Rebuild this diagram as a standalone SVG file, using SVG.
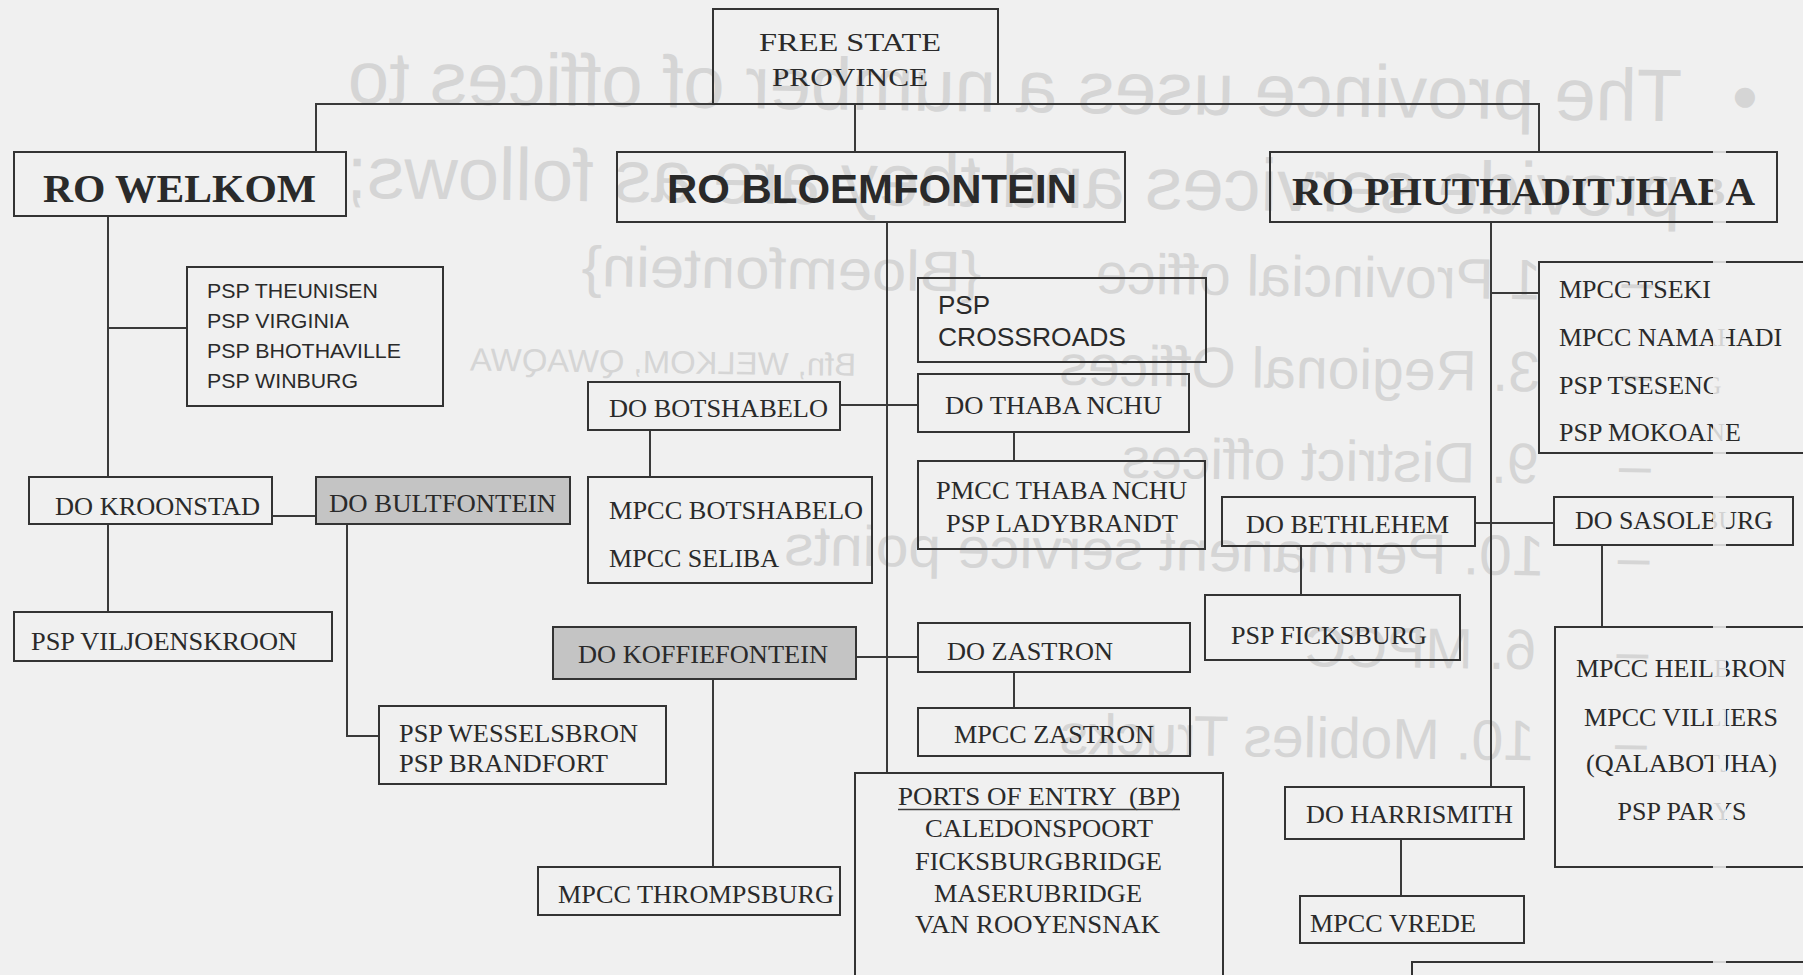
<svg xmlns="http://www.w3.org/2000/svg" width="1803" height="975" viewBox="0 0 1803 975">
<style>
.bg{fill:#f0f0f0}
.ghost text{font-family:"Liberation Sans",Arial,sans-serif;fill:#d5d5d5}
.box{fill:none;stroke:#333;stroke-width:2}
.shade{fill:#c4c4c4;stroke:#333;stroke-width:2}
.serif{font-family:"Liberation Serif","Times New Roman",serif;font-size:26px;fill:#2a2a2a}
.sans{font-family:"Liberation Sans",Arial,sans-serif;fill:#2a2a2a}
.big{font-weight:bold;font-size:41px}
.conn path{stroke:#3a3a3a;stroke-width:2;fill:none}
.gap{fill:#f0f0f0;opacity:0.85}
</style>
<rect class="bg" x="0" y="0" width="1803" height="975"/>

<g id="ghost" class="ghost" transform="rotate(0.8 1012 300) matrix(-1 0 0 1 1803 0)">
  <text x="48" y="112" font-size="74">•</text>
  <text x="124" y="112" font-size="74" textLength="1334" lengthAdjust="spacingAndGlyphs">The province uses a number of offices to</text>
  <text x="124" y="207" font-size="74" textLength="1334" lengthAdjust="spacingAndGlyphs">provide services and they are as follows;</text>
  <text x="150" y="292" font-size="57">–</text>
  <text x="262" y="292" font-size="57">1 Provincial office</text>
  <text x="822" y="292" font-size="57" textLength="400" lengthAdjust="spacingAndGlyphs">{Bloemfontein}</text>
  <text x="150" y="384" font-size="57">–</text>
  <text x="262" y="384" font-size="57">3. Regional Offices</text>
  <text x="946" y="378" font-size="32" textLength="386" lengthAdjust="spacingAndGlyphs">Bfn, WELKOM, QWAQWA</text>
  <text x="150" y="476" font-size="57">–</text>
  <text x="262" y="476" font-size="57">9. District offices</text>
  <text x="150" y="568" font-size="57">–</text>
  <text x="255" y="568" font-size="57" textLength="760" lengthAdjust="spacingAndGlyphs">10. Permanent service points</text>
  <text x="150" y="662" font-size="57">–</text>
  <text x="262" y="662" font-size="57">6. MPCC</text>
  <text x="150" y="753" font-size="57">–</text>
  <text x="262" y="753" font-size="57">10. Mobiles Trucks</text>
</g>

<g id="connectors" class="conn">
  <path d="M316 152 V104 H1539 V152"/>
  <path d="M855 104 V152"/>
  <path d="M108 216 V477 M108 524 V612"/>
  <path d="M108 328 H187"/>
  <path d="M272 516 H315"/>
  <path d="M347 524 V736 H379"/>
  <path d="M887 222 V773"/>
  <path d="M840 405 H918"/>
  <path d="M650 430 V477"/>
  <path d="M1014 432 V461"/>
  <path d="M856 657 H918"/>
  <path d="M713 679 V867"/>
  <path d="M1014 672 V708"/>
  <path d="M1491 222 V788"/>
  <path d="M1491 293 H1539"/>
  <path d="M1475 523 H1554"/>
  <path d="M1301 546 V595"/>
  <path d="M1602 545 V627"/>
  <path d="M1401 839 V896"/>
</g>

<g id="free-state-province">
  <rect class="box" x="713" y="9" width="285" height="95"/>
  <text class="serif" font-size="34" x="759" y="51" textLength="182" lengthAdjust="spacingAndGlyphs">FREE STATE</text>
  <text class="serif" font-size="34" x="772" y="86" textLength="156" lengthAdjust="spacingAndGlyphs">PROVINCE</text>
</g>

<g id="ro-welkom">
  <rect class="box" x="14" y="152" width="332" height="64"/>
  <text class="serif big" x="43" y="202" textLength="273" lengthAdjust="spacingAndGlyphs">RO WELKOM</text>
</g>
<g id="ro-bloemfontein">
  <rect class="box" x="617" y="152" width="508" height="70"/>
  <text class="sans big" x="667" y="203" textLength="410" lengthAdjust="spacingAndGlyphs">RO BLOEMFONTEIN</text>
</g>
<g id="ro-phuthaditjhaba">
  <rect class="box" x="1270" y="152" width="507" height="70"/>
  <text class="serif big" x="1292" y="205" textLength="463" lengthAdjust="spacingAndGlyphs">RO PHUTHADITJHABA</text>
</g>

<g id="psp-theunisen-group">
  <rect class="box" x="187" y="267" width="256" height="139"/>
  <text class="sans" font-size="21" x="207" y="298" textLength="171" lengthAdjust="spacingAndGlyphs">PSP THEUNISEN</text>
  <text class="sans" font-size="21" x="207" y="328" textLength="142" lengthAdjust="spacingAndGlyphs">PSP VIRGINIA</text>
  <text class="sans" font-size="21" x="207" y="358" textLength="194" lengthAdjust="spacingAndGlyphs">PSP BHOTHAVILLE</text>
  <text class="sans" font-size="21" x="207" y="388" textLength="151" lengthAdjust="spacingAndGlyphs">PSP WINBURG</text>
</g>
<g id="do-kroonstad">
  <rect class="box" x="29" y="477" width="243" height="47"/>
  <text class="serif" x="55" y="515" textLength="205" lengthAdjust="spacingAndGlyphs">DO KROONSTAD</text>
</g>
<g id="do-bultfontein">
  <rect class="shade" x="316" y="477" width="254" height="47"/>
  <text class="serif" x="329" y="512" textLength="227" lengthAdjust="spacingAndGlyphs">DO BULTFONTEIN</text>
</g>
<g id="psp-viljoenskroon">
  <rect class="box" x="14" y="612" width="318" height="49"/>
  <text class="serif" x="31" y="650" textLength="266" lengthAdjust="spacingAndGlyphs">PSP VILJOENSKROON</text>
</g>
<g id="psp-wesselsbron">
  <rect class="box" x="379" y="706" width="287" height="78"/>
  <text class="serif" x="399" y="742" textLength="239" lengthAdjust="spacingAndGlyphs">PSP WESSELSBRON</text>
  <text class="serif" x="399" y="772" textLength="209" lengthAdjust="spacingAndGlyphs">PSP BRANDFORT</text>
</g>

<g id="psp-crossroads">
  <rect class="box" x="918" y="278" width="288" height="84"/>
  <text class="sans" font-size="26" x="938" y="314">PSP</text>
  <text class="sans" font-size="26" x="938" y="346" textLength="188" lengthAdjust="spacingAndGlyphs">CROSSROADS</text>
</g>
<g id="do-botshabelo">
  <rect class="box" x="588" y="382" width="252" height="48"/>
  <text class="serif" x="609" y="417" textLength="219" lengthAdjust="spacingAndGlyphs">DO BOTSHABELO</text>
</g>
<g id="do-thaba-nchu">
  <rect class="box" x="918" y="374" width="271" height="58"/>
  <text class="serif" x="945" y="414" textLength="217" lengthAdjust="spacingAndGlyphs">DO THABA NCHU</text>
</g>
<g id="mpcc-botshabelo">
  <rect class="box" x="588" y="477" width="284" height="106"/>
  <text class="serif" x="609" y="519" textLength="254" lengthAdjust="spacingAndGlyphs">MPCC BOTSHABELO</text>
  <text class="serif" x="609" y="567" textLength="170" lengthAdjust="spacingAndGlyphs">MPCC SELIBA</text>
</g>
<g id="pmcc-thaba-nchu">
  <rect class="box" x="918" y="461" width="287" height="88"/>
  <text class="serif" x="936" y="499" textLength="251" lengthAdjust="spacingAndGlyphs">PMCC THABA NCHU</text>
  <text class="serif" x="946" y="532" textLength="232" lengthAdjust="spacingAndGlyphs">PSP LADYBRANDT</text>
</g>
<g id="do-koffiefontein">
  <rect class="shade" x="553" y="627" width="303" height="52"/>
  <text class="serif" x="578" y="663" textLength="250" lengthAdjust="spacingAndGlyphs">DO KOFFIEFONTEIN</text>
</g>
<g id="do-zastron">
  <rect class="box" x="918" y="623" width="272" height="49"/>
  <text class="serif" x="947" y="660" textLength="166" lengthAdjust="spacingAndGlyphs">DO ZASTRON</text>
</g>
<g id="mpcc-zastron">
  <rect class="box" x="918" y="708" width="272" height="48"/>
  <text class="serif" x="954" y="743" textLength="200" lengthAdjust="spacingAndGlyphs">MPCC ZASTRON</text>
</g>
<g id="mpcc-thrompsburg">
  <rect class="box" x="538" y="867" width="302" height="48"/>
  <text class="serif" x="558" y="903" textLength="276" lengthAdjust="spacingAndGlyphs">MPCC THROMPSBURG</text>
</g>
<g id="ports-of-entry">
  <rect class="box" x="855" y="773" width="368" height="215"/>
  <text class="serif" x="898" y="805" textLength="282" lengthAdjust="spacingAndGlyphs" xml:space="preserve">PORTS OF ENTRY  (BP)</text>
  <path d="M898 809.5 H1180" stroke="#3a3a3a" stroke-width="1.5"/>
  <text class="serif" x="925" y="837" textLength="228" lengthAdjust="spacingAndGlyphs">CALEDONSPOORT</text>
  <text class="serif" x="915" y="870" textLength="247" lengthAdjust="spacingAndGlyphs">FICKSBURGBRIDGE</text>
  <text class="serif" x="934" y="902" textLength="208" lengthAdjust="spacingAndGlyphs">MASERUBRIDGE</text>
  <text class="serif" x="915" y="933" textLength="245" lengthAdjust="spacingAndGlyphs">VAN ROOYENSNAK</text>
</g>

<g id="mpcc-tseki-group">
  <rect class="box" x="1539" y="262" width="280" height="191"/>
  <text class="serif" x="1559" y="298">MPCC TSEKI</text>
  <text class="serif" x="1559" y="346">MPCC NAMAHADI</text>
  <text class="serif" x="1559" y="394">PSP TSESENG</text>
  <text class="serif" x="1559" y="441">PSP MOKOANE</text>
</g>
<g id="do-bethlehem">
  <rect class="box" x="1222" y="497" width="253" height="49"/>
  <text class="serif" x="1246" y="533" textLength="203" lengthAdjust="spacingAndGlyphs">DO BETHLEHEM</text>
</g>
<g id="do-sasolburg">
  <rect class="box" x="1554" y="497" width="239" height="48"/>
  <text class="serif" x="1575" y="529" textLength="198" lengthAdjust="spacingAndGlyphs">DO SASOLBURG</text>
</g>
<g id="psp-ficksburg">
  <rect class="box" x="1205" y="595" width="255" height="65"/>
  <text class="serif" x="1231" y="644" textLength="196" lengthAdjust="spacingAndGlyphs">PSP FICKSBURG</text>
</g>
<g id="mpcc-heilbron-group">
  <rect class="box" x="1555" y="627" width="264" height="240"/>
  <text class="serif" x="1681" y="677" text-anchor="middle">MPCC HEILBRON</text>
  <text class="serif" x="1681" y="726" text-anchor="middle">MPCC VILLIERS</text>
  <text class="serif" x="1586" y="772" textLength="191" lengthAdjust="spacingAndGlyphs">(QALABOTJHA)</text>
  <text class="serif" x="1682" y="820" text-anchor="middle">PSP PARYS</text>
</g>
<g id="do-harrismith">
  <rect class="box" x="1285" y="787" width="239" height="52"/>
  <text class="serif" x="1306" y="823" textLength="207" lengthAdjust="spacingAndGlyphs">DO HARRISMITH</text>
</g>
<g id="mpcc-vrede">
  <rect class="box" x="1300" y="896" width="224" height="47"/>
  <text class="serif" x="1310" y="932" textLength="166" lengthAdjust="spacingAndGlyphs">MPCC VREDE</text>
</g>
<g id="bottom-box">
  <rect class="box" x="1412" y="962" width="420" height="40"/>
</g>

<rect class="gap" x="1713" y="150" width="13" height="825"/>
</svg>
